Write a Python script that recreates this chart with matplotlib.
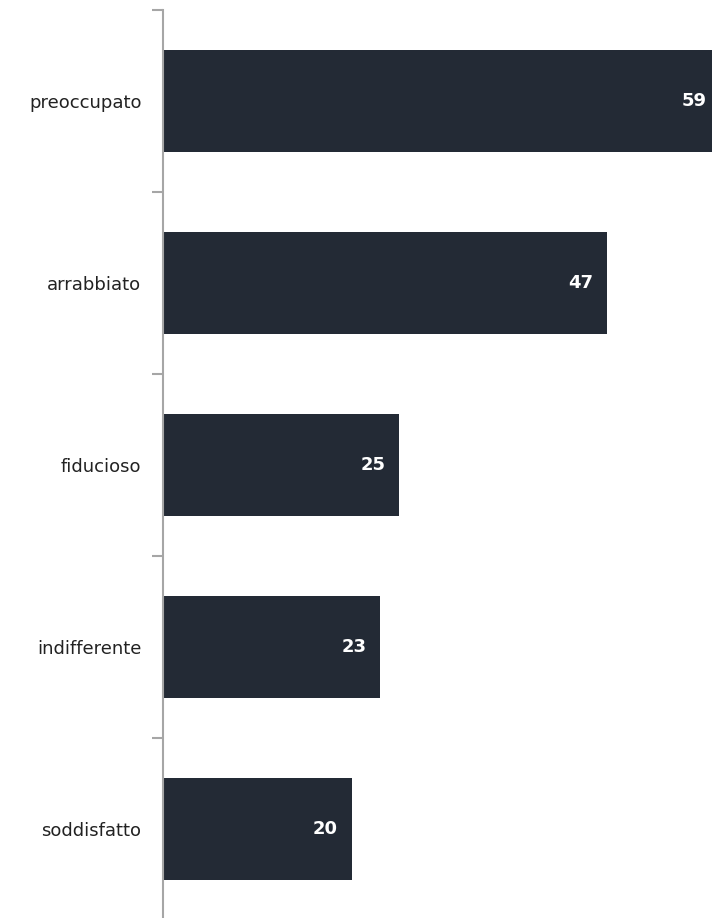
import matplotlib
matplotlib.use("Agg")
import matplotlib.pyplot as plt
from matplotlib.transforms import offset_copy

categories = ["preoccupato", "arrabbiato", "fiducioso", "indifferente", "soddisfatto"]
values = [59, 47, 25, 23, 20]

W, H = 712, 918
fig = plt.figure(figsize=(W / 100, H / 100), dpi=100)
ax = fig.add_axes([163 / W, (918 - 920) / H, 549 / W, 910 / H])

ypos = list(range(len(categories)))
bars = ax.barh(ypos, values, height=0.56, color="#232a35", edgecolor="none")
ax.set_ylim(len(categories) - 0.5, -0.5)
ax.set_xlim(0, 58.1)

for s in ["top", "right", "bottom"]:
    ax.spines[s].set_visible(False)
ax.spines["left"].set_color("#a6a6a6")
ax.spines["left"].set_linewidth(1.5)
ax.set_xticks([])
ax.set_yticks([i - 0.5 for i in range(len(categories) + 1)])
ax.set_yticklabels([])
ax.set_yticks(ypos, minor=True)
ax.set_yticklabels(categories, minor=True, fontsize=13, color="#222222",
                   family="DejaVu Sans")
ax.tick_params(axis="y", which="major", length=8, width=1.5, color="#a6a6a6")
ax.tick_params(axis="y", which="minor", length=0, pad=15.5)

for y, v in zip(ypos, values):
    tr = offset_copy(ax.transData, fig=fig, x=-14 * 72 / 100, y=0, units="points")
    ax.text(v, y, str(v), transform=tr, ha="right", va="center",
            color="white", fontsize=13, fontweight="bold", family="DejaVu Sans",
            clip_on=False)

fig.savefig("out.png", dpi=100)
